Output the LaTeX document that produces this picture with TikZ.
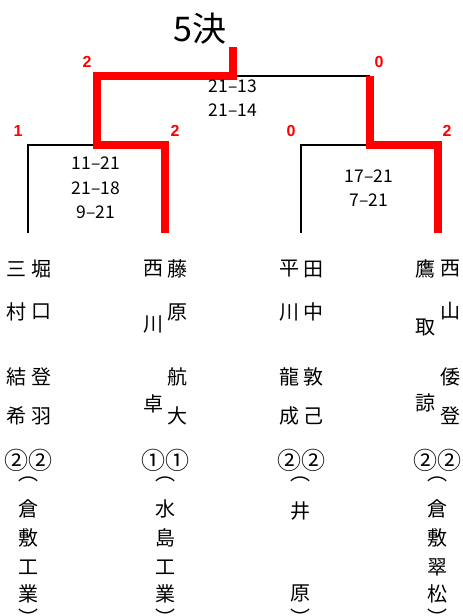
\documentclass[tikz,border=0pt]{standalone}
\usepackage{fontspec}
\setmainfont{Noto Sans CJK JP}
\newfontfamily\ptfont{Liberation Sans}
\usetikzlibrary{positioning}

\begin{document}
\begin{tikzpicture}[x=1pt,y=-1pt,
    win/.style={draw=red,line width=7.5pt,line join=miter},
    lose/.style={draw=black,line width=2.7pt},
    pts/.style={text=red,font=\ptfont\bfseries\fontsize{16}{16}\selectfont},
    score/.style={align=center,font=\fontsize{17.5}{24.5}\selectfont},
    kanji/.style={inner sep=0pt,font=\fontsize{20}{20}\selectfont}]
  \useasboundingbox (0,0) rectangle (463,616);
  \node[font=\fontsize{34}{34}\selectfont] (title) at (200,29) {5決};
  % bracket
  \coordinate (top) at (233,47);
  \coordinate (f) at (233,76);
  \coordinate (fl) at (97,76);
  \coordinate (fr) at (370,76);
  \coordinate (sl) at (97,145);
  \coordinate (sr) at (370,145);
  \coordinate (a1) at (28,145);
  \coordinate (a2) at (165,145);
  \coordinate (b1) at (301,145);
  \coordinate (b2) at (438,145);
  \coordinate (p1) at (28,233);
  \coordinate (p2) at (165,233);
  \coordinate (p3) at (301,233);
  \coordinate (p4) at (438,233);
  \path[lose] (f) -- (fr);
  \path[lose] (p1) -- (a1) -- (sl);
  \path[lose] (p3) -- (b1) -- (sr);
  \path[win] (top) -- (f) -- (fl) -- (sl) -- (a2) -- (p2);
  \path[win] (fr) -- (sr) -- (b2) -- (p4);
  % games won
  \foreach \v/\x/\y [count=\i] in {2/87/62,0/379/62,1/18/131,2/175/131,0/291/131,2/447/131}
    \node[pts] (g\i) at (\x,\y) {\v};
  % scores
  \node[score] (s1) at (233,98) {21–13\\21–14};
  \node[score] (s2) at (96,188) {11–21\\21–18\\9–21};
  \node[score] (s3) at (369,188) {17–21\\7–21};
  % players
  \foreach \c/\x/\y [count=\i] in {三/16/269,村/16/312,結/16/377,希/16/416,
      堀/41/269,口/41/312,登/41/377,羽/41/416,
      西/153/269,川/153/324,卓/153/404,
      藤/177/269,原/177/312,航/177/377,大/177/416,
      平/289/269,川/289/312,龍/289/377,成/289/416,
      田/313/269,中/313/312,敦/313/377,己/313/416,
      鷹/425/269,取/425/327,諒/425/403,
      西/450/269,山/450/311,倭/450/377,登/450/416}
    \node[kanji] (n\i) at (\x,\y) {\c};
  % grades
  \foreach \c/\x [count=\i] in {②②/29,①①/165,②②/301,②②/437}
    \node[kanji,font=\fontsize{24}{24}\selectfont] (r\i) at (\x,460) {\c};
  % schools
  \foreach \c/\x/\y [count=\i] in {︵/28/479,倉/28/509,敷/28/538,工/28/567,業/28/594,︶/28/617,
      ︵/165/479,水/165/509,島/165/538,工/165/567,業/165/594,︶/165/617,
      ︵/300/479,井/300/511,原/300/593,︶/300/617,
      ︵/437/479,倉/437/509,敷/437/538,翠/437/567,松/437/594,︶/437/617}
    \node[kanji] (c\i) at (\x,\y) {\c};
\end{tikzpicture}
\end{document}
